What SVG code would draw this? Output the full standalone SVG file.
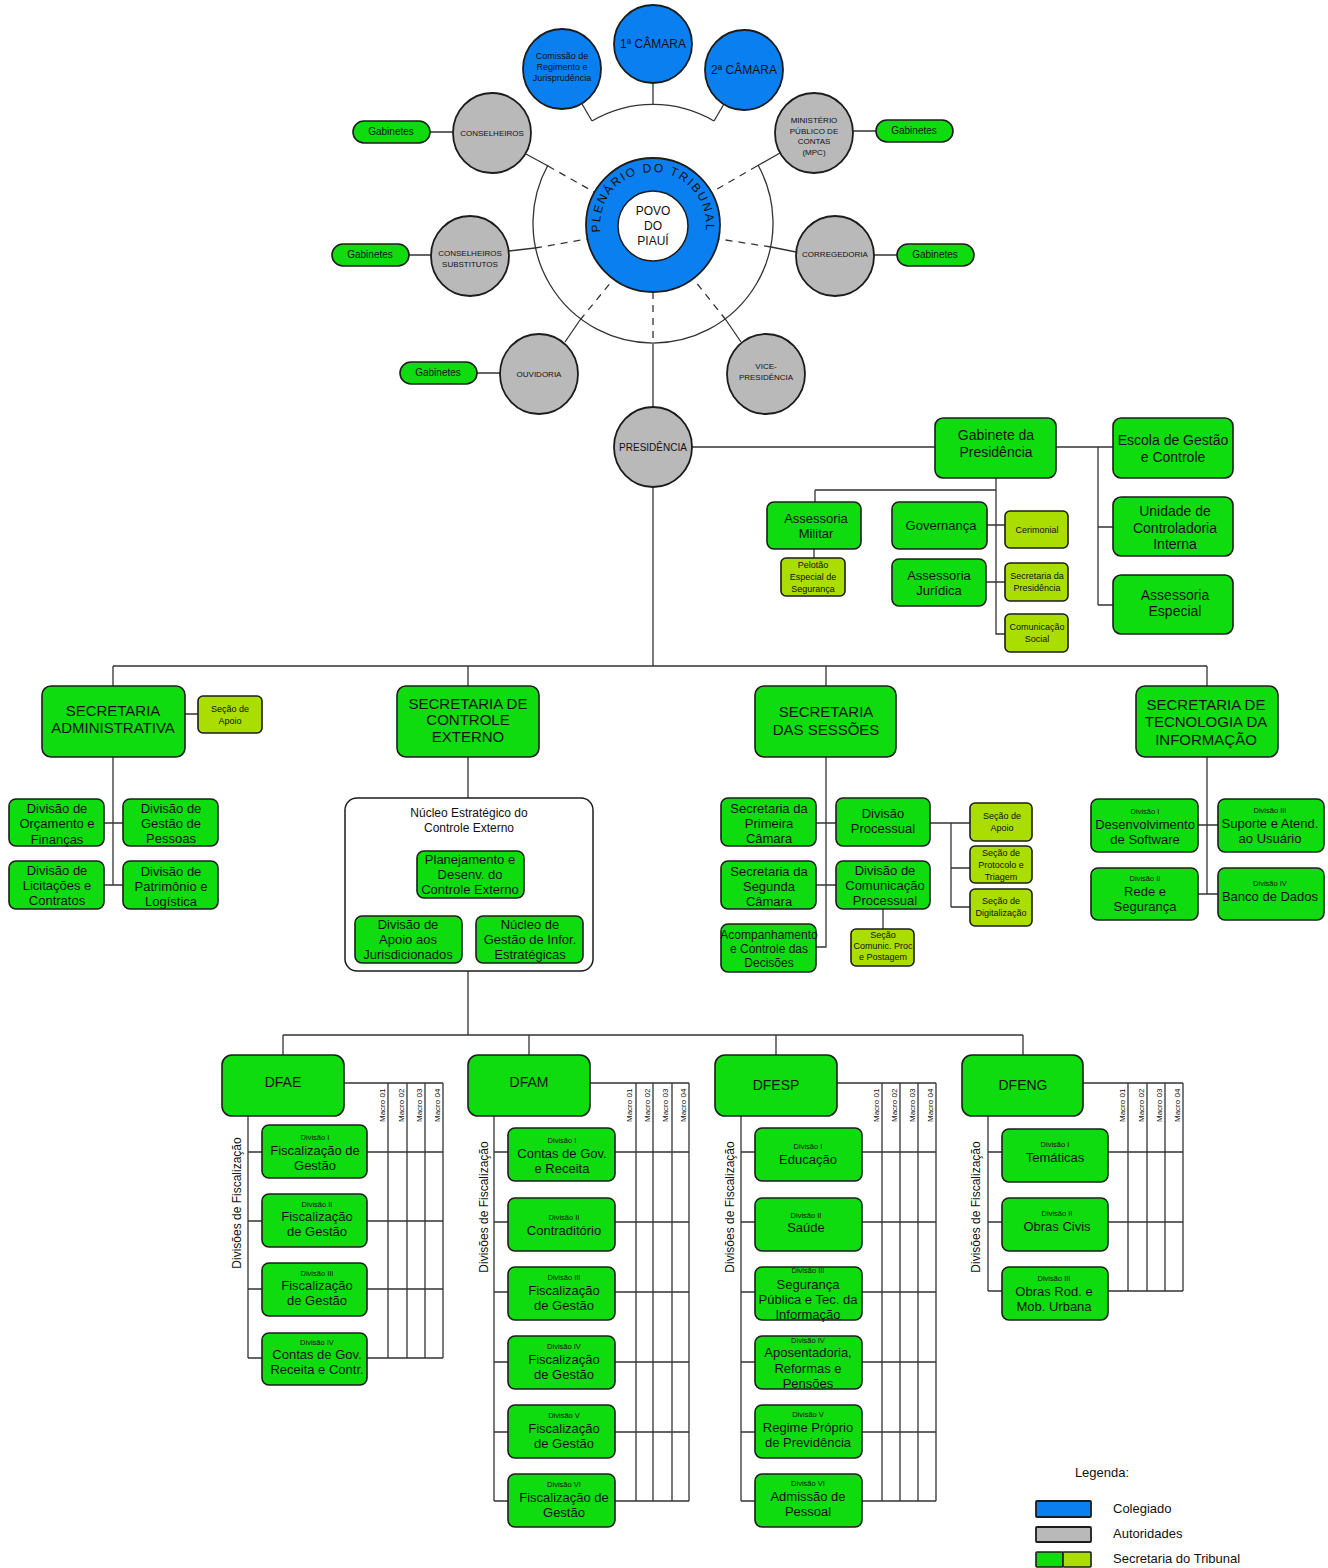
<svg xmlns="http://www.w3.org/2000/svg" width="1328" height="1568" viewBox="0 0 1328 1568">
<style>
.g{fill:#0fdc0f;stroke:#1c1c1c;stroke-width:1.6}
.y{fill:#aadd00;stroke:#1c1c1c;stroke-width:1.6}
.a{fill:#b9b9b9;stroke:#1c1c1c;stroke-width:1.8}
.b{fill:#0a7ff0;stroke:#1c1c1c;stroke-width:1.8}
.w{fill:#fff;stroke:#1c1c1c;stroke-width:1.5}
.l{fill:none;stroke:#333;stroke-width:1.3}
.d{stroke-dasharray:7 6}
text{font-family:"Liberation Sans",Arial,sans-serif;fill:#111;text-anchor:middle;dominant-baseline:central}
.s7{font-size:7.5px}.s8{font-size:8px}.s9{font-size:9px}.s10{font-size:10px}.s12{font-size:12px}.s13{font-size:13px}.s14{font-size:14px}.s15{font-size:15px}
.st{text-anchor:start}
</style>
<defs>
<path id="plen" d="M600.2,229.6 A53 53 0 1 1 705.8,229.6"/>
</defs>
<g id="connectors">
<path class="l" d="M653,83 V105"/>
<path class="l" d="M592,121 A120 120 0 0 1 714,121"/>
<path class="l" d="M582,104 L592,121"/>
<path class="l" d="M724,104 L714,121"/>
<path class="l" d="M548,165 A120 120 0 1 0 758,165"/>
<path class="l" d="M526,154 L548,166"/><path class="l d" d="M548,166 L594,192"/>
<path class="l" d="M780,153 L757,166"/><path class="l d" d="M757,166 L712,192"/>
<path class="l" d="M509,251 L535,248"/><path class="l d" d="M535,248 L587,239"/>
<path class="l" d="M796,252 L771,247"/><path class="l d" d="M771,247 L719,239"/>
<path class="l" d="M565,342 L580,320"/><path class="l d" d="M580,320 L612,281"/>
<path class="l" d="M741,342 L726,320"/><path class="l d" d="M726,320 L695,281"/>
<path class="l d" d="M653,292 V345"/><path class="l" d="M653,345 V407"/>
<path class="l" d="M430,132 H453 M853,131 H876 M409,255 H431 M874,255 H897 M477,373 H500"/>
<path class="l" d="M692,447 H935 M1056,447 H1113 M1098,447 V605 M1098,527 H1113 M1098,605 H1113"/>
<path class="l" d="M996,478 V634 H1006 M815,490 H996 M815,490 V502 M814,549 V558 M987,525 H1005 M986,582 H1005"/>
<path class="l" d="M653,487 V666 M113,666 H1207 M113,666 V686 M468,666 V686 M826,666 V686 M1207,666 V686"/>
<path class="l" d="M185,714 H198 M113,757 V885 M104,823 H123 M104,885 H123"/>
<path class="l" d="M468,757 V798 M468,971 V1035 M283,1035 H1023 M283,1035 V1055 M529,1035 V1055 M776,1035 V1055 M1023,1035 V1055"/>
<path class="l" d="M826,757 V947 H816 M816,823 H836 M816,885 H836 M883,909 V929 M930,823 H951 V907 M951,823 H970 M951,868 H970 M951,907 H970"/>
<path class="l" d="M1207,757 V894 M1198,825 H1218 M1198,894 H1218"/>
<!-- DFAE table -->
<path class="l" d="M344,1083 H443 M388,1083 V1358 M407,1083 V1358 M425,1083 V1358 M443,1083 V1358 M248,1116 V1358 M248,1152 H443 M248,1221 H443 M248,1289 H443 M248,1358 H443"/>
<!-- DFAM table -->
<path class="l" d="M590,1083 H689 M636,1083 V1501 M653,1083 V1501 M672,1083 V1501 M689,1083 V1501 M494,1116 V1501 M494,1152 H689 M494,1222 H689 M494,1292 H689 M494,1362 H689 M494,1432 H689 M494,1501 H689"/>
<!-- DFESP table -->
<path class="l" d="M837,1083 H936 M882,1083 V1501 M900,1083 V1501 M918,1083 V1501 M936,1083 V1501 M741,1116 V1501 M741,1152 H936 M741,1222 H936 M741,1292 H936 M741,1362 H936 M741,1432 H936 M741,1501 H936"/>
<!-- DFENG table -->
<path class="l" d="M1083,1083 H1183 M1128,1083 V1291 M1147,1083 V1291 M1165,1083 V1291 M1183,1083 V1291 M988,1116 V1291 M988,1152 H1183 M988,1222 H1183 M988,1291 H1183"/>
</g>

<!-- Top colegiado -->
<g id="comissao"><ellipse class="b" cx="562" cy="69" rx="39" ry="40"/><text class="s9"><tspan x="562" y="56">Comissão de</tspan><tspan x="562" y="67">Regimento e</tspan><tspan x="562" y="78">Jurisprudência</tspan></text></g>
<g id="camara1"><ellipse class="b" cx="653" cy="44" rx="39" ry="39"/><text class="s12" x="653" y="44">1ª CÂMARA</text></g>
<g id="camara2"><ellipse class="b" cx="744" cy="70" rx="39" ry="40"/><text class="s12" x="744" y="70">2ª CÂMARA</text></g>
<g id="plenario"><circle class="b" cx="653" cy="225" r="67"/><circle class="w" cx="653" cy="226" r="35"/>
<text class="s12" style="letter-spacing:1.8px;dominant-baseline:auto"><textPath href="#plen" startOffset="50%">PLENÁRIO DO TRIBUNAL</textPath></text>
<text class="s12"><tspan x="653" y="211">POVO</tspan><tspan x="653" y="226">DO</tspan><tspan x="653" y="241">PIAUÍ</tspan></text></g>

<!-- Autoridades -->
<g id="conselheiros"><ellipse class="a" cx="492" cy="133" rx="39" ry="40"/><text class="s8" x="492" y="133">CONSELHEIROS</text></g>
<g id="mpc"><ellipse class="a" cx="814" cy="133" rx="39" ry="40"/><text class="s8"><tspan x="814" y="120">MINISTÉRIO</tspan><tspan x="814" y="131">PÚBLICO DE</tspan><tspan x="814" y="141">CONTAS</tspan><tspan x="814" y="152">(MPC)</tspan></text></g>
<g id="substitutos"><ellipse class="a" cx="470" cy="256" rx="39" ry="40"/><text class="s8"><tspan x="470" y="253">CONSELHEIROS</tspan><tspan x="470" y="264">SUBSTITUTOS</tspan></text></g>
<g id="corregedoria"><ellipse class="a" cx="835" cy="256" rx="39" ry="40"/><text class="s8" x="835" y="254">CORREGEDORIA</text></g>
<g id="ouvidoria"><ellipse class="a" cx="539" cy="374" rx="39" ry="40"/><text class="s8" x="539" y="374">OUVIDORIA</text></g>
<g id="vice"><ellipse class="a" cx="766" cy="374" rx="39" ry="40"/><text class="s8"><tspan x="766" y="366">VICE-</tspan><tspan x="766" y="377">PRESIDÊNCIA</tspan></text></g>
<g id="presidencia"><ellipse class="a" cx="653" cy="447" rx="39" ry="40"/><text class="s10" x="653" y="447">PRESIDÊNCIA</text></g>

<!-- Gabinetes -->
<g id="gab1"><rect class="g" x="353" y="121" width="77" height="22" rx="11"/><text class="s10" x="391" y="131">Gabinetes</text></g>
<g id="gab2"><rect class="g" x="876" y="120" width="77" height="22" rx="11"/><text class="s10" x="914" y="130">Gabinetes</text></g>
<g id="gab3"><rect class="g" x="332" y="244" width="77" height="22" rx="11"/><text class="s10" x="370" y="254">Gabinetes</text></g>
<g id="gab4"><rect class="g" x="897" y="244" width="77" height="22" rx="11"/><text class="s10" x="935" y="254">Gabinetes</text></g>
<g id="gab5"><rect class="g" x="400" y="362" width="77" height="22" rx="11"/><text class="s10" x="438" y="372">Gabinetes</text></g>

<!-- Presidência units -->
<g id="gabpres"><rect class="g" x="935" y="418" width="121" height="60" rx="8"/><text class="s14"><tspan x="996" y="435">Gabinete da</tspan><tspan x="996" y="452">Presidência</tspan></text></g>
<g id="escola"><rect class="g" x="1113" y="418" width="120" height="60" rx="8"/><text class="s14"><tspan x="1173" y="440">Escola de Gestão</tspan><tspan x="1173" y="457">e Controle</tspan></text></g>
<g id="controladoria"><rect class="g" x="1113" y="497" width="120" height="59" rx="8"/><text class="s14"><tspan x="1175" y="511">Unidade de</tspan><tspan x="1175" y="528">Controladoria</tspan><tspan x="1175" y="544">Interna</tspan></text></g>
<g id="assesp"><rect class="g" x="1113" y="575" width="120" height="59" rx="8"/><text class="s14"><tspan x="1175" y="595">Assessoria</tspan><tspan x="1175" y="611">Especial</tspan></text></g>
<g id="assmil"><rect class="g" x="767" y="502" width="94" height="47" rx="7"/><text class="s13"><tspan x="816" y="518">Assessoria</tspan><tspan x="816" y="533">Militar</tspan></text></g>
<g id="pelotao"><rect class="y" x="781" y="558" width="64" height="38" rx="5"/><text class="s9"><tspan x="813" y="565">Pelotão</tspan><tspan x="813" y="577">Especial de</tspan><tspan x="813" y="589">Segurança</tspan></text></g>
<g id="governanca"><rect class="g" x="892" y="502" width="95" height="47" rx="7"/><text class="s13" x="941" y="525">Governança</text></g>
<g id="cerimonial"><rect class="y" x="1005" y="511" width="63" height="37" rx="5"/><text class="s9" x="1037" y="530">Cerimonial</text></g>
<g id="assjur"><rect class="g" x="892" y="559" width="94" height="47" rx="7"/><text class="s13"><tspan x="939" y="575">Assessoria</tspan><tspan x="939" y="590">Jurídica</tspan></text></g>
<g id="secpres"><rect class="y" x="1005" y="563" width="63" height="38" rx="5"/><text class="s9"><tspan x="1037" y="576">Secretaria da</tspan><tspan x="1037" y="588">Presidência</tspan></text></g>
<g id="comsocial"><rect class="y" x="1005" y="614" width="63" height="38" rx="5"/><text class="s9"><tspan x="1037" y="627">Comunicação</tspan><tspan x="1037" y="639">Social</tspan></text></g>

<!-- Secretaria Administrativa -->
<g id="secadm"><rect class="g" x="42" y="686" width="143" height="71" rx="9"/><text class="s15"><tspan x="113" y="710">SECRETARIA</tspan><tspan x="113" y="727">ADMINISTRATIVA</tspan></text></g>
<g id="secadm-apoio"><rect class="y" x="198" y="696" width="64" height="37" rx="5"/><text class="s9"><tspan x="230" y="709">Seção de</tspan><tspan x="230" y="721">Apoio</tspan></text></g>
<g id="orcamento"><rect class="g" x="9" y="799" width="95" height="47" rx="7"/><text class="s13"><tspan x="57" y="808">Divisão de</tspan><tspan x="57" y="823">Orçamento e</tspan><tspan x="57" y="839">Finanças</tspan></text></g>
<g id="pessoas"><rect class="g" x="123" y="799" width="95" height="47" rx="7"/><text class="s13"><tspan x="171" y="808">Divisão de</tspan><tspan x="171" y="823">Gestão de</tspan><tspan x="171" y="838">Pessoas</tspan></text></g>
<g id="licitacoes"><rect class="g" x="9" y="861" width="95" height="48" rx="7"/><text class="s13"><tspan x="57" y="870">Divisão de</tspan><tspan x="57" y="885">Licitações e</tspan><tspan x="57" y="900">Contratos</tspan></text></g>
<g id="patrimonio"><rect class="g" x="123" y="861" width="95" height="48" rx="7"/><text class="s13"><tspan x="171" y="871">Divisão de</tspan><tspan x="171" y="886">Patrimônio e</tspan><tspan x="171" y="901">Logística</tspan></text></g>

<!-- Secretaria de Controle Externo -->
<g id="sce"><rect class="g" x="397" y="686" width="142" height="71" rx="9"/><text class="s15"><tspan x="468" y="703">SECRETARIA DE</tspan><tspan x="468" y="719">CONTROLE</tspan><tspan x="468" y="736">EXTERNO</tspan></text></g>
<g id="nucleo"><rect class="w" x="345" y="798" width="248" height="173" rx="12"/><text class="s12"><tspan x="469" y="813">Núcleo Estratégico do</tspan><tspan x="469" y="828">Controle Externo</tspan></text></g>
<g id="planejamento"><rect class="g" x="417" y="851" width="107" height="47" rx="7"/><text class="s13"><tspan x="470" y="859">Planejamento e</tspan><tspan x="470" y="874">Desenv. do</tspan><tspan x="470" y="889">Controle Externo</tspan></text></g>
<g id="apoiojur"><rect class="g" x="355" y="916" width="107" height="47" rx="7"/><text class="s13"><tspan x="408" y="924">Divisão de</tspan><tspan x="408" y="939">Apoio aos</tspan><tspan x="408" y="954">Jurisdicionados</tspan></text></g>
<g id="nucleogestao"><rect class="g" x="476" y="916" width="107" height="47" rx="7"/><text class="s13"><tspan x="530" y="924">Núcleo de</tspan><tspan x="530" y="939">Gestão de Infor.</tspan><tspan x="530" y="954">Estratégicas</tspan></text></g>

<!-- Secretaria das Sessões -->
<g id="sessoes"><rect class="g" x="755" y="686" width="141" height="71" rx="9"/><text class="s15"><tspan x="826" y="711">SECRETARIA</tspan><tspan x="826" y="729">DAS SESSÕES</tspan></text></g>
<g id="primeira"><rect class="g" x="721" y="798" width="95" height="48" rx="7"/><text class="s13"><tspan x="769" y="808">Secretaria da</tspan><tspan x="769" y="823">Primeira</tspan><tspan x="769" y="838">Câmara</tspan></text></g>
<g id="divproc"><rect class="g" x="836" y="798" width="94" height="48" rx="7"/><text class="s13"><tspan x="883" y="813">Divisão</tspan><tspan x="883" y="828">Processual</tspan></text></g>
<g id="segunda"><rect class="g" x="721" y="861" width="95" height="48" rx="7"/><text class="s13"><tspan x="769" y="871">Secretaria da</tspan><tspan x="769" y="886">Segunda</tspan><tspan x="769" y="901">Câmara</tspan></text></g>
<g id="divcom"><rect class="g" x="836" y="861" width="94" height="48" rx="7"/><text class="s13"><tspan x="885" y="870">Divisão de</tspan><tspan x="885" y="885">Comunicação</tspan><tspan x="885" y="900">Processual</tspan></text></g>
<g id="acompanhamento"><rect class="g" x="721" y="924" width="95" height="48" rx="7"/><text class="s12"><tspan x="769" y="935">Acompanhamento</tspan><tspan x="769" y="949">e Controle das</tspan><tspan x="769" y="963">Decisões</tspan></text></g>
<g id="secaocomunic"><rect class="y" x="851" y="929" width="63" height="37" rx="5"/><text class="s9"><tspan x="883" y="935">Seção</tspan><tspan x="883" y="946">Comunic. Proc</tspan><tspan x="883" y="957">e Postagem</tspan></text></g>
<g id="sessoes-apoio"><rect class="y" x="970" y="803" width="62" height="38" rx="5"/><text class="s9"><tspan x="1002" y="816">Seção de</tspan><tspan x="1002" y="828">Apoio</tspan></text></g>
<g id="protocolo"><rect class="y" x="970" y="846" width="62" height="37" rx="5"/><text class="s9"><tspan x="1001" y="853">Seção de</tspan><tspan x="1001" y="865">Protocolo e</tspan><tspan x="1001" y="877">Triagem</tspan></text></g>
<g id="digitalizacao"><rect class="y" x="970" y="889" width="62" height="37" rx="5"/><text class="s9"><tspan x="1001" y="901">Seção de</tspan><tspan x="1001" y="913">Digitalização</tspan></text></g>

<!-- Secretaria de TI -->
<g id="sti"><rect class="g" x="1136" y="686" width="142" height="71" rx="9"/><text class="s15"><tspan x="1206" y="704">SECRETARIA DE</tspan><tspan x="1206" y="721">TECNOLOGIA DA</tspan><tspan x="1206" y="739">INFORMAÇÃO</tspan></text></g>
<g id="ti-div1"><rect class="g" x="1091" y="799" width="107" height="53" rx="7"/><text class="s7" x="1145" y="811">Divisão I</text><text class="s13"><tspan x="1145" y="824">Desenvolvimento</tspan><tspan x="1145" y="839">de Software</tspan></text></g>
<g id="ti-div3"><rect class="g" x="1218" y="799" width="106" height="53" rx="7"/><text class="s7" x="1270" y="810">Divisão III</text><text class="s13"><tspan x="1270" y="823">Suporte e Atend.</tspan><tspan x="1270" y="838">ao Usuário</tspan></text></g>
<g id="ti-div2"><rect class="g" x="1091" y="868" width="107" height="52" rx="7"/><text class="s7" x="1145" y="878">Divisão II</text><text class="s13"><tspan x="1145" y="891">Rede e</tspan><tspan x="1145" y="906">Segurança</tspan></text></g>
<g id="ti-div4"><rect class="g" x="1218" y="868" width="106" height="52" rx="7"/><text class="s7" x="1270" y="883">Divisão IV</text><text class="s13" x="1270" y="896">Banco de Dados</text></g>

<!-- DFAE -->
<g id="dfae"><rect class="g" x="222" y="1055" width="122" height="61" rx="10"/><text class="s14" x="283" y="1082">DFAE</text>
<text class="s12" transform="translate(237,1203) rotate(-90)">Divisões de Fiscalização</text>
<g class="s8"><text class="st" transform="translate(382,1122) rotate(-90)">Macro 01</text><text class="st" transform="translate(401,1122) rotate(-90)">Macro 02</text><text class="st" transform="translate(419,1122) rotate(-90)">Macro 03</text><text class="st" transform="translate(437,1122) rotate(-90)">Macro 04</text></g></g>
<g id="dfae-d1"><rect class="g" x="262" y="1125" width="105" height="53" rx="7"/><text class="s7" x="315" y="1137">Divisão I</text><text class="s13"><tspan x="315" y="1150">Fiscalização de</tspan><tspan x="315" y="1165">Gestão</tspan></text></g>
<g id="dfae-d2"><rect class="g" x="262" y="1194" width="105" height="53" rx="7"/><text class="s7" x="317" y="1204">Divisão II</text><text class="s13"><tspan x="317" y="1216">Fiscalização</tspan><tspan x="317" y="1231">de Gestão</tspan></text></g>
<g id="dfae-d3"><rect class="g" x="262" y="1263" width="105" height="53" rx="7"/><text class="s7" x="317" y="1273">Divisão III</text><text class="s13"><tspan x="317" y="1285">Fiscalização</tspan><tspan x="317" y="1300">de Gestão</tspan></text></g>
<g id="dfae-d4"><rect class="g" x="262" y="1333" width="105" height="52" rx="7"/><text class="s7" x="317" y="1342">Divisão IV</text><text class="s13"><tspan x="317" y="1354">Contas de Gov.</tspan><tspan x="317" y="1369">Receita e Contr.</tspan></text></g>

<!-- DFAM -->
<g id="dfam"><rect class="g" x="468" y="1055" width="122" height="61" rx="10"/><text class="s14" x="529" y="1082">DFAM</text>
<text class="s12" transform="translate(484,1207) rotate(-90)">Divisões de Fiscalização</text>
<g class="s8"><text class="st" transform="translate(629,1122) rotate(-90)">Macro 01</text><text class="st" transform="translate(647,1122) rotate(-90)">Macro 02</text><text class="st" transform="translate(665,1122) rotate(-90)">Macro 03</text><text class="st" transform="translate(683,1122) rotate(-90)">Macro 04</text></g></g>
<g id="dfam-d1"><rect class="g" x="508" y="1128" width="107" height="53" rx="7"/><text class="s7" x="562" y="1140">Divisão I</text><text class="s13"><tspan x="562" y="1153">Contas de Gov.</tspan><tspan x="562" y="1168">e Receita</tspan></text></g>
<g id="dfam-d2"><rect class="g" x="508" y="1198" width="107" height="53" rx="7"/><text class="s7" x="564" y="1217">Divisão II</text><text class="s13" x="564" y="1230">Contraditório</text></g>
<g id="dfam-d3"><rect class="g" x="508" y="1267" width="107" height="53" rx="7"/><text class="s7" x="564" y="1277">Divisão III</text><text class="s13"><tspan x="564" y="1290">Fiscalização</tspan><tspan x="564" y="1305">de Gestão</tspan></text></g>
<g id="dfam-d4"><rect class="g" x="508" y="1336" width="107" height="53" rx="7"/><text class="s7" x="564" y="1346">Divisão IV</text><text class="s13"><tspan x="564" y="1359">Fiscalização</tspan><tspan x="564" y="1374">de Gestão</tspan></text></g>
<g id="dfam-d5"><rect class="g" x="508" y="1405" width="107" height="53" rx="7"/><text class="s7" x="564" y="1415">Divisão V</text><text class="s13"><tspan x="564" y="1428">Fiscalização</tspan><tspan x="564" y="1443">de Gestão</tspan></text></g>
<g id="dfam-d6"><rect class="g" x="508" y="1474" width="107" height="53" rx="7"/><text class="s7" x="564" y="1484">Divisão VI</text><text class="s13"><tspan x="564" y="1497">Fiscalização de</tspan><tspan x="564" y="1512">Gestão</tspan></text></g>

<!-- DFESP -->
<g id="dfesp"><rect class="g" x="715" y="1055" width="122" height="61" rx="10"/><text class="s14" x="776" y="1085">DFESP</text>
<text class="s12" transform="translate(730,1207) rotate(-90)">Divisões de Fiscalização</text>
<g class="s8"><text class="st" transform="translate(876,1122) rotate(-90)">Macro 01</text><text class="st" transform="translate(894,1122) rotate(-90)">Macro 02</text><text class="st" transform="translate(912,1122) rotate(-90)">Macro 03</text><text class="st" transform="translate(930,1122) rotate(-90)">Macro 04</text></g></g>
<g id="dfesp-d1"><rect class="g" x="755" y="1128" width="107" height="53" rx="7"/><text class="s7" x="808" y="1146">Divisão I</text><text class="s13" x="808" y="1159">Educação</text></g>
<g id="dfesp-d2"><rect class="g" x="755" y="1198" width="107" height="53" rx="7"/><text class="s7" x="806" y="1215">Divisão II</text><text class="s13" x="806" y="1227">Saúde</text></g>
<g id="dfesp-d3"><rect class="g" x="755" y="1267" width="107" height="53" rx="7"/><text class="s7" x="808" y="1270">Divisão III</text><text class="s13"><tspan x="808" y="1284">Segurança</tspan><tspan x="808" y="1299">Pública e Tec. da</tspan><tspan x="808" y="1314">Informação</tspan></text></g>
<g id="dfesp-d4"><rect class="g" x="755" y="1336" width="107" height="53" rx="7"/><text class="s7" x="808" y="1340">Divisão IV</text><text class="s13"><tspan x="808" y="1352">Aposentadoria,</tspan><tspan x="808" y="1368">Reformas e</tspan><tspan x="808" y="1383">Pensões</tspan></text></g>
<g id="dfesp-d5"><rect class="g" x="755" y="1405" width="107" height="53" rx="7"/><text class="s7" x="808" y="1414">Divisão V</text><text class="s13"><tspan x="808" y="1427">Regime Próprio</tspan><tspan x="808" y="1442">de Previdência</tspan></text></g>
<g id="dfesp-d6"><rect class="g" x="755" y="1474" width="107" height="53" rx="7"/><text class="s7" x="808" y="1483">Divisão VI</text><text class="s13"><tspan x="808" y="1496">Admissão de</tspan><tspan x="808" y="1511">Pessoal</tspan></text></g>

<!-- DFENG -->
<g id="dfeng"><rect class="g" x="962" y="1055" width="121" height="61" rx="10"/><text class="s14" x="1023" y="1085">DFENG</text>
<text class="s12" transform="translate(976,1207) rotate(-90)">Divisões de Fiscalização</text>
<g class="s8"><text class="st" transform="translate(1122,1122) rotate(-90)">Macro 01</text><text class="st" transform="translate(1141,1122) rotate(-90)">Macro 02</text><text class="st" transform="translate(1159,1122) rotate(-90)">Macro 03</text><text class="st" transform="translate(1177,1122) rotate(-90)">Macro 04</text></g></g>
<g id="dfeng-d1"><rect class="g" x="1002" y="1129" width="106" height="53" rx="7"/><text class="s7" x="1055" y="1144">Divisão I</text><text class="s13" x="1055" y="1157">Temáticas</text></g>
<g id="dfeng-d2"><rect class="g" x="1002" y="1198" width="106" height="53" rx="7"/><text class="s7" x="1057" y="1213">Divisão II</text><text class="s13" x="1057" y="1226">Obras Civis</text></g>
<g id="dfeng-d3"><rect class="g" x="1002" y="1267" width="106" height="53" rx="7"/><text class="s7" x="1054" y="1278">Divisão III</text><text class="s13"><tspan x="1054" y="1291">Obras Rod. e</tspan><tspan x="1054" y="1306">Mob. Urbana</tspan></text></g>

<!-- Legenda -->
<g id="legenda">
<text class="s13" x="1102" y="1472">Legenda:</text>
<rect class="b" x="1036" y="1501" width="55" height="16" rx="1"/>
<rect class="a" x="1036" y="1527" width="55" height="15" rx="1"/>
<rect class="g" x="1036" y="1552" width="27" height="15" rx="1"/>
<rect class="y" x="1063" y="1552" width="28" height="15" rx="1"/>
<text class="s13 st" x="1113" y="1508">Colegiado</text>
<text class="s13 st" x="1113" y="1533">Autoridades</text>
<text class="s13 st" x="1113" y="1558">Secretaria do Tribunal</text>
</g>
</svg>
